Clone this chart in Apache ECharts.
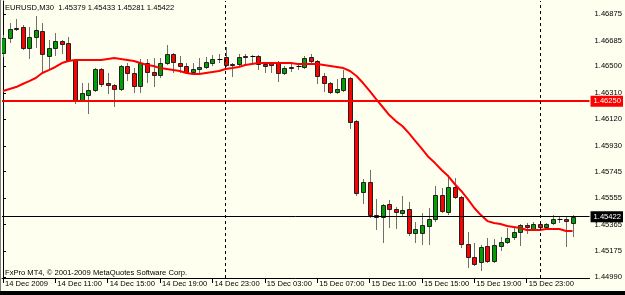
<!DOCTYPE html>
<html>
<head>
<meta charset="utf-8">
<script src="https://cdn.jsdelivr.net/npm/echarts@6/dist/echarts.min.js"></script>
<style>
  html, body { margin: 0; padding: 0; background: #fffff0; }
  #chart { width: 625px; height: 295px; }
</style>
</head>
<body>
<div id="chart"></div>
<script>
// EURUSD M30, 88 bars starting 14 Dec 2009 07:00 (index 0)
const open = [
  1.46595, 1.46703, 1.46774, 1.46781, 1.46631, 1.46710, 1.46753, 1.46573, 1.46631, 1.46681,
  1.46667, 1.46545, 1.46258, 1.46294, 1.46330, 1.46480, 1.46380, 1.46366, 1.46337, 1.46502,
  1.46452, 1.46358, 1.46523, 1.46459, 1.46437, 1.46523, 1.46588, 1.46523, 1.46502, 1.46459,
  1.46480, 1.46495, 1.46523, 1.46552, 1.46566, 1.46516, 1.46516, 1.46573, 1.46573, 1.46573,
  1.46516, 1.46523, 1.46530, 1.46452, 1.46495, 1.46502, 1.46495, 1.46566, 1.46538, 1.46430,
  1.46380, 1.46315, 1.46330, 1.46416, 1.46107, 1.45598, 1.45670, 1.45433, 1.45419, 1.45512,
  1.45477, 1.45448, 1.45477, 1.45304, 1.45304, 1.45355, 1.45405, 1.45577, 1.45455, 1.45634,
  1.45563, 1.45226, 1.45132, 1.45097, 1.45211, 1.45104, 1.45211, 1.45240, 1.45276, 1.45312,
  1.45362, 1.45333, 1.45369, 1.45347, 1.45376, 1.45405, 1.45405, 1.45379
];
const high = [
  1.46724, 1.46810, 1.46839, 1.46796, 1.46781, 1.46860, 1.46810, 1.46688, 1.46738, 1.46688,
  1.46710, 1.46552, 1.46380, 1.46380, 1.46487, 1.46487, 1.46452, 1.46373, 1.46509, 1.46523,
  1.46487, 1.46552, 1.46552, 1.46559, 1.46559, 1.46652, 1.46595, 1.46573, 1.46523, 1.46523,
  1.46559, 1.46566, 1.46581, 1.46588, 1.46638, 1.46523, 1.46588, 1.46588, 1.46581, 1.46581,
  1.46523, 1.46530, 1.46538, 1.46502, 1.46516, 1.46523, 1.46573, 1.46588, 1.46545, 1.46452,
  1.46387, 1.46409, 1.46473, 1.46423, 1.46115, 1.45692, 1.45756, 1.45548, 1.45512, 1.45541,
  1.45491, 1.45570, 1.45527, 1.45383, 1.45448, 1.45484, 1.45641, 1.45627, 1.45720, 1.45699,
  1.45570, 1.45312, 1.45233, 1.45218, 1.45269, 1.45261, 1.45276, 1.45340, 1.45355, 1.45369,
  1.45376, 1.45383, 1.45376, 1.45376, 1.45433, 1.45419, 1.45419, 1.45433
];
const low = [
  1.46573, 1.46674, 1.46760, 1.46624, 1.46559, 1.46638, 1.46466, 1.46487, 1.46581, 1.46595,
  1.46538, 1.46237, 1.46251, 1.46165, 1.46323, 1.46358, 1.46308, 1.46215, 1.46330, 1.46401,
  1.46315, 1.46315, 1.46387, 1.46358, 1.46423, 1.46516, 1.46459, 1.46459, 1.46452, 1.46452,
  1.46452, 1.46487, 1.46509, 1.46530, 1.46502, 1.46430, 1.46509, 1.46516, 1.46523, 1.46480,
  1.46459, 1.46459, 1.46394, 1.46444, 1.46466, 1.46480, 1.46487, 1.46523, 1.46380, 1.46323,
  1.46308, 1.46308, 1.46323, 1.46057, 1.45577, 1.45520, 1.45419, 1.45333, 1.45240, 1.45347,
  1.45340, 1.45433, 1.45290, 1.45240, 1.45226, 1.45226, 1.45390, 1.45455, 1.45441, 1.45556,
  1.45204, 1.45061, 1.45075, 1.45039, 1.45097, 1.45097, 1.45183, 1.45233, 1.45261, 1.45218,
  1.45304, 1.45326, 1.45340, 1.45340, 1.45369, 1.45383, 1.45211, 1.45281
];
const close = [
  1.46703, 1.46767, 1.46767, 1.46631, 1.46710, 1.46760, 1.46588, 1.46631, 1.46681, 1.46660,
  1.46545, 1.46258, 1.46308, 1.46330, 1.46480, 1.46373, 1.46366, 1.46337, 1.46502, 1.46452,
  1.46358, 1.46523, 1.46459, 1.46437, 1.46523, 1.46588, 1.46530, 1.46502, 1.46459, 1.46480,
  1.46495, 1.46530, 1.46552, 1.46552, 1.46509, 1.46509, 1.46566, 1.46566, 1.46573, 1.46516,
  1.46502, 1.46509, 1.46452, 1.46487, 1.46487, 1.46502, 1.46559, 1.46538, 1.46430, 1.46380,
  1.46315, 1.46337, 1.46416, 1.46100, 1.45591, 1.45670, 1.45433, 1.45419, 1.45505, 1.45477,
  1.45455, 1.45469, 1.45304, 1.45333, 1.45362, 1.45405, 1.45577, 1.45462, 1.45634, 1.45563,
  1.45226, 1.45132, 1.45082, 1.45204, 1.45104, 1.45218, 1.45240, 1.45269, 1.45312, 1.45362,
  1.45347, 1.45369, 1.45347, 1.45369, 1.45405, 1.45405, 1.45390, 1.45422
];
// moving average (red line)
const ma = [
  1.46323, 1.46337, 1.46351, 1.46373, 1.46394, 1.46416, 1.46452, 1.46473, 1.46495, 1.46523,
  1.46538, 1.46545, 1.46545, 1.46545, 1.46545, 1.46545, 1.46552, 1.46559, 1.46552, 1.46545,
  1.46538, 1.46523, 1.46509, 1.46502, 1.46487, 1.46480, 1.46473, 1.46466, 1.46452, 1.46444,
  1.46444, 1.46452, 1.46459, 1.46466, 1.46480, 1.46487, 1.46495, 1.46509, 1.46516, 1.46523,
  1.46523, 1.46523, 1.46523, 1.46523, 1.46523, 1.46516, 1.46516, 1.46516, 1.46516, 1.46509,
  1.46502, 1.46495, 1.46487, 1.46466, 1.46430, 1.46380, 1.46323, 1.46265, 1.46208, 1.46150,
  1.46107, 1.46072, 1.46021, 1.45964, 1.45907, 1.45849, 1.45806, 1.45756, 1.45713, 1.45656,
  1.45606, 1.45548, 1.45484, 1.45433, 1.45390, 1.45376, 1.45369, 1.45355, 1.45347, 1.45340,
  1.45326, 1.45326, 1.45326, 1.45333, 1.45333, 1.45333, 1.45319, 1.45319
];

const xTickIdx = [0, 8, 16, 24, 32, 40, 48, 56, 64, 72, 80];
const xTickLabels = ['14 Dec 2009', '14 Dec 11:00', '14 Dec 15:00', '14 Dec 19:00', '14 Dec 23:00',
  '15 Dec 03:00', '15 Dec 07:00', '15 Dec 11:00', '15 Dec 15:00', '15 Dec 19:00', '15 Dec 23:00'];
const yTicks = [1.46875, 1.46685, 1.46500, 1.46310, 1.46120, 1.45930, 1.45745, 1.45555, 1.45365, 1.45175, 1.44990];
const daySeparators = [34, 82];
const levelLine = 1.46250;
const bidPrice = 1.45422;
const titleText = 'EURUSD,M30  1.45379 1.45433 1.45281 1.45422';
const footerText = 'FxPro MT4, \u00a9 2001-2009 MetaQuotes Software Corp.';

const FONT = "'Liberation Sans', Arial, sans-serif";
const FS = 7.6;
const UP = '#00a000';
const DOWN = '#ff0000';
const WICK = '#707070';
const BODY_W = 5;

const candles = open.map((o, i) => [i, o, close[i], low[i], high[i]]);
const maData = ma.map((v, i) => [i, v]);

// MT4-style candle: grey wick, filled body with dark outline
function renderCandle(params, api) {
  const x = api.value(0);
  const o = api.value(1), c = api.value(2), l = api.value(3), h = api.value(4);
  const pH = api.coord([x, h]);
  const pL = api.coord([x, l]);
  const pO = api.coord([x, o]);
  const pC = api.coord([x, c]);
  const cx = Math.round(pH[0]) + 0.5;
  const top = Math.round(Math.min(pO[1], pC[1]));
  const bot = Math.round(Math.max(pO[1], pC[1]));
  const children = [{
    type: 'line',
    shape: { x1: cx, y1: Math.round(pH[1]), x2: cx, y2: Math.round(pL[1]) + 1 },
    style: { stroke: WICK, lineWidth: 1 }
  }];
  if (bot - top < 1) {
    children.push({
      type: 'line',
      shape: { x1: cx - 2, y1: top + 0.5, x2: cx + 3, y2: top + 0.5 },
      style: { stroke: '#000', lineWidth: 1 }
    });
  } else {
    children.push({
      type: 'rect',
      shape: { x: cx - 2, y: top + 0.5, width: BODY_W - 1, height: bot - top },
      style: { fill: c >= o ? UP : DOWN, stroke: '#202020', lineWidth: 1 }
    });
  }
  return { type: 'group', children };
}

const chart = echarts.init(document.getElementById('chart'), null, { renderer: 'canvas' });

chart.setOption({
  animation: false,
  backgroundColor: '#fffff0',
  textStyle: { fontFamily: FONT },
  grid: { left: 2, right: 34, top: 1, bottom: 17 },
  xAxis: {
    type: 'value',
    min: -0.152,
    max: 89.6,
    axisLine: { show: true, onZero: false, lineStyle: { color: '#000', width: 1 } },
    axisTick: { show: true, customValues: xTickIdx, length: 5, lineStyle: { color: '#000' } },
    axisLabel: {
      customValues: xTickIdx,
      formatter: (v) => xTickLabels[xTickIdx.indexOf(v)] || '',
      align: 'left',
      padding: [0, 0, 0, 2],
      margin: 2,
      fontSize: FS,
      color: '#000',
      fontFamily: FONT
    },
    splitLine: { show: false }
  },
  yAxis: {
    type: 'value',
    position: 'right',
    min: 1.44982,
    max: 1.46968,
    axisLine: { show: true, lineStyle: { color: '#000', width: 1 } },
    axisTick: { show: true, customValues: yTicks, length: 3, lineStyle: { color: '#000' } },
    axisLabel: {
      customValues: yTicks,
      formatter: (v) => v.toFixed(5),
      margin: 5,
      fontSize: FS,
      color: '#000',
      fontFamily: FONT
    },
    splitLine: { show: false }
  },
  series: [
    {
      type: 'custom',
      data: candles,
      renderItem: renderCandle,
      encode: { x: 0, y: [1, 2, 3, 4] },
      clip: true,
      z: 2
    },
    {
      type: 'line',
      data: maData,
      showSymbol: false,
      symbol: 'none',
      lineStyle: { color: '#ff0000', width: 2 },
      z: 3,
      markLine: {
        silent: true,
        symbol: 'none',
        animation: false,
        precision: 5,
        data: [
          {
            yAxis: levelLine,
            lineStyle: { color: '#ff0000', width: 2, type: 'solid' },
            label: {
              show: true, position: 'end', formatter: levelLine.toFixed(5),
              color: '#fff', backgroundColor: '#ff0000', padding: [2, 2, 1, 3],
              distance: 1, fontSize: FS, fontFamily: FONT
            }
          },
          {
            yAxis: bidPrice,
            lineStyle: { color: '#000', width: 1, type: 'solid' },
            label: {
              show: true, position: 'end', formatter: bidPrice.toFixed(5),
              color: '#fff', backgroundColor: '#000', padding: [2, 2, 1, 3],
              distance: 1, fontSize: FS, fontFamily: FONT
            }
          },
          ...daySeparators.map((d) => ({
            xAxis: d,
            lineStyle: { color: '#000', width: 1, type: [3, 3] },
            label: { show: false }
          }))
        ]
      }
    }
  ],
  graphic: [
    { type: 'text', left: 5, top: 4, style: { text: titleText, font: FS + 'px ' + FONT, fill: '#000' } },
    { type: 'text', left: 5, top: 269, style: { text: footerText, font: FS + 'px ' + FONT, fill: '#000' } },
    { type: 'rect', left: 0, top: 0, shape: { width: 1, height: 295 }, style: { fill: '#808080' } },
    { type: 'rect', left: 0, top: 291, shape: { width: 625, height: 4 }, style: { fill: '#000' } }
  ]
});
</script>
</body>
</html>
